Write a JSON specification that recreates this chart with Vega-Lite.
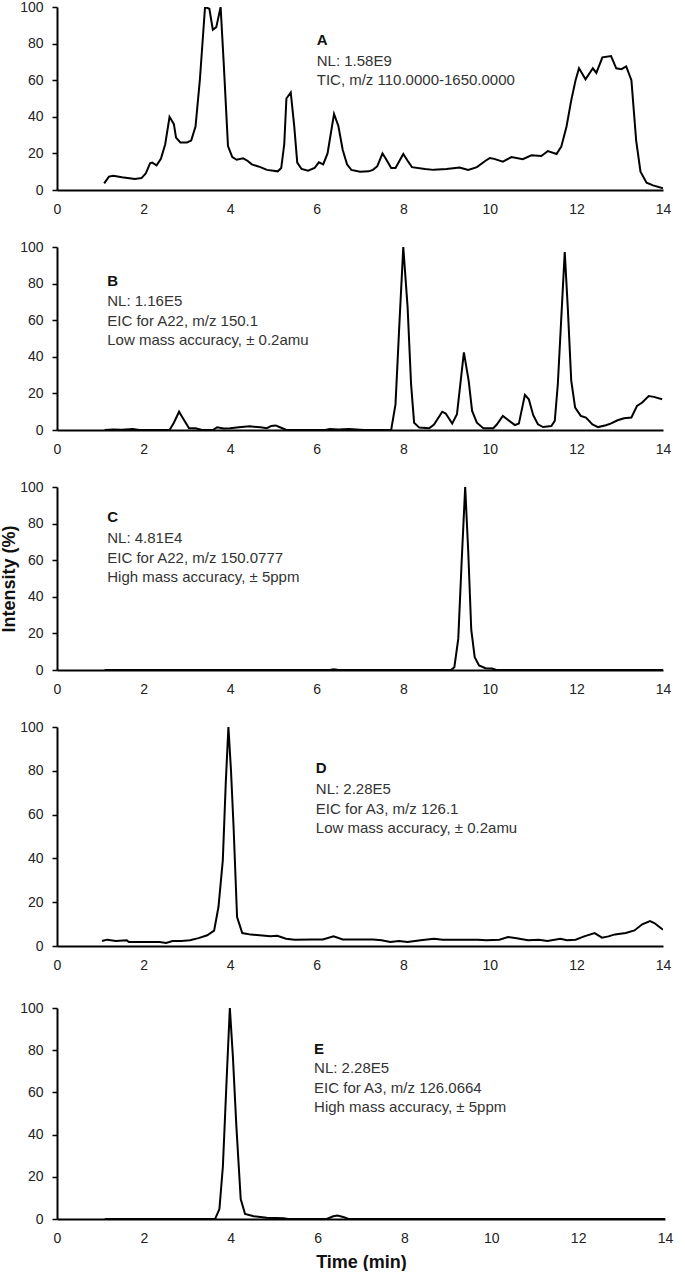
{
"$schema": "https://vega.github.io/schema/vega-lite/v6.json",
"padding": {"top": 0, "left": 0, "right": 5, "bottom": 0},
"background": "white",
"datasets": {
"A": [{"t":1.09,"i":3.6},{"t":1.2,"i":7.3},{"t":1.3,"i":7.8},{"t":1.5,"i":7},{"t":1.8,"i":6},{"t":1.95,"i":6.5},{"t":2.05,"i":9},{"t":2.15,"i":14.6},{"t":2.2,"i":15},{"t":2.3,"i":13.5},{"t":2.4,"i":17},{"t":2.5,"i":25},{"t":2.6,"i":40},{"t":2.7,"i":36},{"t":2.75,"i":28.6},{"t":2.85,"i":26},{"t":3.0,"i":26},{"t":3.1,"i":27},{"t":3.2,"i":34.7},{"t":3.3,"i":60},{"t":3.42,"i":100},{"t":3.52,"i":99},{"t":3.6,"i":87.6},{"t":3.68,"i":89},{"t":3.78,"i":100},{"t":3.85,"i":70},{"t":3.95,"i":24},{"t":4.05,"i":18},{"t":4.15,"i":16.5},{"t":4.3,"i":17.3},{"t":4.4,"i":16},{"t":4.5,"i":14},{"t":4.7,"i":12.5},{"t":4.85,"i":11},{"t":5.0,"i":10.5},{"t":5.1,"i":10.2},{"t":5.18,"i":12},{"t":5.25,"i":25},{"t":5.3,"i":50},{"t":5.4,"i":53.3},{"t":5.48,"i":35},{"t":5.55,"i":15},{"t":5.65,"i":11.5},{"t":5.8,"i":10.5},{"t":5.95,"i":12},{"t":6.05,"i":15.1},{"t":6.15,"i":14},{"t":6.25,"i":20},{"t":6.4,"i":41.6},{"t":6.5,"i":35},{"t":6.6,"i":22},{"t":6.7,"i":14},{"t":6.8,"i":11},{"t":7.0,"i":10},{"t":7.2,"i":10.2},{"t":7.3,"i":11},{"t":7.4,"i":13},{"t":7.52,"i":20},{"t":7.6,"i":17},{"t":7.72,"i":12},{"t":7.82,"i":12},{"t":8.0,"i":19.7},{"t":8.1,"i":16},{"t":8.2,"i":12.5},{"t":8.5,"i":11.5},{"t":8.7,"i":11},{"t":9.0,"i":11.5},{"t":9.2,"i":12},{"t":9.3,"i":12.3},{"t":9.5,"i":11},{"t":9.7,"i":12.5},{"t":9.9,"i":16},{"t":10.0,"i":17.5},{"t":10.1,"i":17},{"t":10.3,"i":15.5},{"t":10.5,"i":18},{"t":10.76,"i":16.8},{"t":10.96,"i":19},{"t":11.19,"i":18.6},{"t":11.34,"i":21.3},{"t":11.54,"i":19.7},{"t":11.65,"i":23.7},{"t":11.77,"i":34.6},{"t":11.88,"i":49},{"t":11.98,"i":60},{"t":12.06,"i":66.5},{"t":12.21,"i":60.5},{"t":12.38,"i":66.5},{"t":12.46,"i":64},{"t":12.6,"i":72.5},{"t":12.8,"i":73.2},{"t":12.92,"i":66.5},{"t":13.04,"i":66},{"t":13.15,"i":67.5},{"t":13.27,"i":60},{"t":13.38,"i":27},{"t":13.48,"i":10},{"t":13.62,"i":4},{"t":13.77,"i":2.5},{"t":14.0,"i":0.9}],
"B": [{"t":1.1,"i":0},{"t":1.3,"i":0.3},{"t":1.5,"i":0.2},{"t":1.75,"i":0.5},{"t":1.9,"i":0},{"t":2.6,"i":0},{"t":2.7,"i":4},{"t":2.82,"i":10},{"t":2.92,"i":6},{"t":3.05,"i":1},{"t":3.2,"i":1},{"t":3.35,"i":0},{"t":3.6,"i":0},{"t":3.7,"i":1.5},{"t":3.85,"i":0.8},{"t":4.0,"i":1},{"t":4.2,"i":1.5},{"t":4.45,"i":2},{"t":4.7,"i":1.5},{"t":4.85,"i":1},{"t":4.95,"i":2.2},{"t":5.05,"i":2.5},{"t":5.15,"i":1.5},{"t":5.3,"i":0},{"t":6.2,"i":0},{"t":6.3,"i":0.6},{"t":6.5,"i":0.3},{"t":6.75,"i":0.5},{"t":7.0,"i":0.2},{"t":7.1,"i":0},{"t":7.72,"i":0},{"t":7.82,"i":14},{"t":7.91,"i":58},{"t":8.0,"i":100},{"t":8.1,"i":67},{"t":8.18,"i":25},{"t":8.25,"i":4},{"t":8.37,"i":1.3},{"t":8.6,"i":1},{"t":8.71,"i":3},{"t":8.9,"i":10},{"t":8.98,"i":9},{"t":9.13,"i":3.5},{"t":9.24,"i":8.6},{"t":9.4,"i":42.4},{"t":9.51,"i":27},{"t":9.59,"i":10.4},{"t":9.7,"i":4},{"t":9.85,"i":1},{"t":10.08,"i":1},{"t":10.16,"i":3},{"t":10.3,"i":7.7},{"t":10.43,"i":5.3},{"t":10.58,"i":2.7},{"t":10.67,"i":3.5},{"t":10.81,"i":19.2},{"t":10.9,"i":16.8},{"t":11.0,"i":8.2},{"t":11.11,"i":3.1},{"t":11.23,"i":1.6},{"t":11.42,"i":2.2},{"t":11.5,"i":5},{"t":11.57,"i":25},{"t":11.73,"i":97.3},{"t":11.8,"i":67},{"t":11.88,"i":27},{"t":11.97,"i":12.2},{"t":12.1,"i":7.7},{"t":12.22,"i":6.8},{"t":12.37,"i":3.1},{"t":12.5,"i":1.6},{"t":12.68,"i":2.6},{"t":12.79,"i":3.5},{"t":12.95,"i":5.3},{"t":13.1,"i":6.4},{"t":13.27,"i":6.8},{"t":13.4,"i":13.2},{"t":13.52,"i":15},{"t":13.67,"i":18.6},{"t":13.79,"i":18.1},{"t":13.98,"i":16.8}],
"C": [{"t":1.1,"i":0},{"t":6.3,"i":0},{"t":6.4,"i":0.4},{"t":6.5,"i":0},{"t":9.1,"i":0},{"t":9.18,"i":1.5},{"t":9.27,"i":17},{"t":9.35,"i":60},{"t":9.43,"i":100},{"t":9.5,"i":65},{"t":9.57,"i":22},{"t":9.65,"i":7},{"t":9.75,"i":2.5},{"t":9.9,"i":1},{"t":10.05,"i":0.8},{"t":10.15,"i":0},{"t":14,"i":0}],
"D": [{"t":1.04,"i":2.3},{"t":1.16,"i":2.9},{"t":1.36,"i":2.3},{"t":1.61,"i":2.6},{"t":1.66,"i":1.8},{"t":2.37,"i":1.8},{"t":2.52,"i":1.4},{"t":2.67,"i":2.3},{"t":2.87,"i":2.3},{"t":3.07,"i":2.6},{"t":3.27,"i":3.6},{"t":3.47,"i":4.9},{"t":3.63,"i":7},{"t":3.73,"i":17.8},{"t":3.83,"i":39},{"t":3.9,"i":75},{"t":3.96,"i":100},{"t":4.02,"i":80},{"t":4.08,"i":54},{"t":4.16,"i":13.2},{"t":4.28,"i":5.9},{"t":4.48,"i":5.2},{"t":4.68,"i":4.9},{"t":4.93,"i":4.4},{"t":5.09,"i":4.7},{"t":5.29,"i":3.3},{"t":5.49,"i":2.9},{"t":5.89,"i":3.0},{"t":6.14,"i":3.0},{"t":6.39,"i":4.4},{"t":6.6,"i":3.0},{"t":7.3,"i":3.0},{"t":7.5,"i":2.6},{"t":7.7,"i":1.8},{"t":7.9,"i":2.3},{"t":8.1,"i":1.8},{"t":8.4,"i":2.6},{"t":8.71,"i":3.3},{"t":8.91,"i":2.9},{"t":9.72,"i":2.9},{"t":9.92,"i":2.6},{"t":10.22,"i":2.9},{"t":10.42,"i":4.1},{"t":10.62,"i":3.5},{"t":10.88,"i":2.6},{"t":11.13,"i":2.9},{"t":11.33,"i":2.3},{"t":11.63,"i":3.3},{"t":11.78,"i":2.6},{"t":11.98,"i":2.9},{"t":12.18,"i":4.4},{"t":12.42,"i":5.9},{"t":12.59,"i":3.8},{"t":12.74,"i":4.4},{"t":12.89,"i":5.3},{"t":13.14,"i":5.9},{"t":13.34,"i":7.1},{"t":13.52,"i":9.9},{"t":13.7,"i":11.4},{"t":13.8,"i":10.5},{"t":14.0,"i":7.4}],
"E": [{"t":1.1,"i":0},{"t":3.64,"i":0},{"t":3.74,"i":4.7},{"t":3.82,"i":25},{"t":3.91,"i":68},{"t":3.98,"i":100},{"t":4.05,"i":77},{"t":4.13,"i":44},{"t":4.23,"i":9.5},{"t":4.33,"i":2.4},{"t":4.53,"i":1.3},{"t":4.83,"i":0.6},{"t":5.22,"i":0.3},{"t":5.32,"i":0},{"t":6.21,"i":0},{"t":6.36,"i":1.3},{"t":6.46,"i":1.6},{"t":6.61,"i":0.8},{"t":6.71,"i":0},{"t":14,"i":0}],
"one": [{"k": 1}]
},
"config": {
"view": {"stroke": null},
"font": "Liberation Sans",
"axis": {"grid": false, "domainColor": "black", "domainWidth": 2, "labelFont": "Liberation Sans", "labelFontSize": 14, "labelColor": "#222", "labelOverlap": false, "titleFont": "Liberation Sans", "titleFontSize": 18, "titleFontWeight": "bold", "titleColor": "#111"},
"axisX": {"ticks": false, "tickSize": 0, "labelPadding": 12, "labelFlush": false},
"axisY": {"tickSize": 5, "tickColor": "black", "tickWidth": 1.5, "labelPadding": 9, "titlePadding": 1},
"line": {"color": "black", "strokeWidth": 2},
"text": {"font": "Liberation Sans", "fontSize": 15, "fontWeight": "normal", "color": "#333", "align": "left", "baseline": "middle", "lineHeight": 19.5}
},
"spacing": 24,
"vconcat": [
{"spacing": 24, "vconcat": [
{"width": 606, "height": 183, "layer": [
{"data": {"name": "A"}, "mark": {"type": "line", "clip": true}, "encoding": {"x": {"field": "t", "type": "quantitative", "scale": {"domain": [0,14]}, "axis": {"title": null, "values": [0,2,4,6,8,10,12,14], "format": "d"}}, "y": {"field": "i", "type": "quantitative", "scale": {"domain": [0,100]}, "axis": {"title": "Intensity (%)", "titleOpacity": 0, "values": [0,20,40,60,80,100], "tickCount": 10, "format": "d"}}}},
{"data": {"name": "one"}, "mark": {"type": "text", "text": "A", "fontWeight": "bold", "color": "#111"}, "encoding": {"x": {"datum": 6.0}, "y": {"datum": 81.8}}},
{"data": {"name": "one"}, "mark": {"type": "text", "text": ["NL: 1.58E9", "TIC, m/z 110.0000-1650.0000"]}, "encoding": {"x": {"datum": 6.0}, "y": {"datum": 70.6}}}
]},
{"width": 606, "height": 183, "layer": [
{"data": {"name": "B"}, "mark": {"type": "line", "clip": true}, "encoding": {"x": {"field": "t", "type": "quantitative", "scale": {"domain": [0,14]}, "axis": {"title": null, "values": [0,2,4,6,8,10,12,14], "format": "d"}}, "y": {"field": "i", "type": "quantitative", "scale": {"domain": [0,100]}, "axis": {"title": "Intensity (%)", "titleOpacity": 0, "values": [0,20,40,60,80,100], "tickCount": 10, "format": "d"}}}},
{"data": {"name": "one"}, "mark": {"type": "text", "text": "B", "fontWeight": "bold", "color": "#111"}, "encoding": {"x": {"datum": 1.16}, "y": {"datum": 81.4}}},
{"data": {"name": "one"}, "mark": {"type": "text", "text": ["NL: 1.16E5", "EIC for A22, m/z 150.1", "Low mass accuracy, ± 0.2amu"]}, "encoding": {"x": {"datum": 1.16}, "y": {"datum": 70.3}}}
]},
{"width": 606, "height": 183, "layer": [
{"data": {"name": "C"}, "mark": {"type": "line", "clip": true}, "encoding": {"x": {"field": "t", "type": "quantitative", "scale": {"domain": [0,14]}, "axis": {"title": null, "values": [0,2,4,6,8,10,12,14], "format": "d"}}, "y": {"field": "i", "type": "quantitative", "scale": {"domain": [0,100]}, "axis": {"title": "Intensity (%)", "values": [0,20,40,60,80,100], "tickCount": 10, "format": "d"}}}},
{"data": {"name": "one"}, "mark": {"type": "text", "text": "C", "fontWeight": "bold", "color": "#111"}, "encoding": {"x": {"datum": 1.16}, "y": {"datum": 83.4}}},
{"data": {"name": "one"}, "mark": {"type": "text", "text": ["NL: 4.81E4", "EIC for A22, m/z 150.0777", "High mass accuracy, ± 5ppm"]}, "encoding": {"x": {"datum": 1.16}, "y": {"datum": 72}}}
]}
]},
{"spacing": 29, "vconcat": [
{"width": 606, "height": 219, "layer": [
{"data": {"name": "D"}, "mark": {"type": "line", "clip": true}, "encoding": {"x": {"field": "t", "type": "quantitative", "scale": {"domain": [0,14]}, "axis": {"title": null, "values": [0,2,4,6,8,10,12,14], "format": "d"}}, "y": {"field": "i", "type": "quantitative", "scale": {"domain": [0,100]}, "axis": {"title": "Intensity (%)", "titleOpacity": 0, "values": [0,20,40,60,80,100], "tickCount": 10, "format": "d"}}}},
{"data": {"name": "one"}, "mark": {"type": "text", "text": "D", "fontWeight": "bold", "color": "#111"}, "encoding": {"x": {"datum": 5.98}, "y": {"datum": 81.5}}},
{"data": {"name": "one"}, "mark": {"type": "text", "text": ["NL: 2.28E5", "EIC for A3, m/z 126.1", "Low mass accuracy, ± 0.2amu"]}, "encoding": {"x": {"datum": 5.98}, "y": {"datum": 71.6}}}
]},
{"width": 608, "height": 211, "layer": [
{"data": {"name": "E"}, "mark": {"type": "line", "clip": true}, "encoding": {"x": {"field": "t", "type": "quantitative", "scale": {"domain": [0,14]}, "axis": {"title": "Time (min)", "titlePadding": 8, "values": [0,2,4,6,8,10,12,14], "format": "d"}}, "y": {"field": "i", "type": "quantitative", "scale": {"domain": [0,100]}, "axis": {"title": "Intensity (%)", "titleOpacity": 0, "values": [0,20,40,60,80,100], "tickCount": 10, "format": "d"}}}},
{"data": {"name": "one"}, "mark": {"type": "text", "text": "E", "fontWeight": "bold", "color": "#111"}, "encoding": {"x": {"datum": 5.92}, "y": {"datum": 80.6}}},
{"data": {"name": "one"}, "mark": {"type": "text", "text": ["NL: 2.28E5", "EIC for A3, m/z 126.0664", "High mass accuracy, ± 5ppm"]}, "encoding": {"x": {"datum": 5.92}, "y": {"datum": 71.4}}}
]}
]}
]
}
